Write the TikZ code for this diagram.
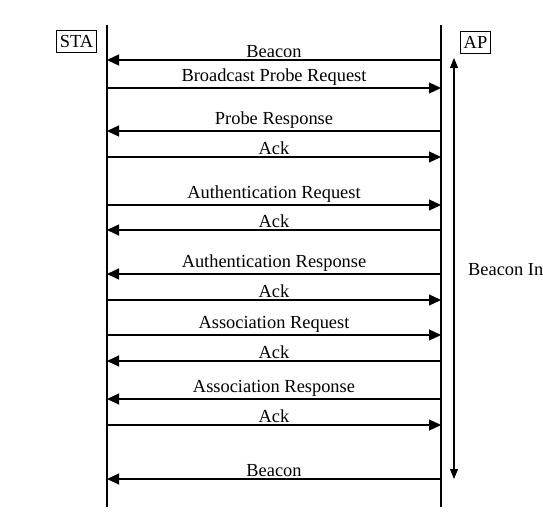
\documentclass[tikz,border=0pt]{standalone}
\usepackage{fontspec}
\setmainfont{Liberation Serif}
\usetikzlibrary{arrows.meta,positioning}

\begin{document}
\begin{tikzpicture}[
    x=1pt, y=-1pt,
    font=\fontsize{18.4}{20}\selectfont,
    life/.style={line width=1.6pt},
    msg/.style={line width=1.2pt, -{Triangle[length=12pt,width=11pt]}},
    interval/.style={line width=1.1pt, {Triangle[length=10pt,width=8pt]}-{Triangle[length=10pt,width=8pt]}},
    party/.style={draw, line width=1pt, inner xsep=3pt, inner ysep=0pt, minimum height=22pt},
    lbl/.style={above=0.5pt, inner sep=1pt}
]
\useasboundingbox (0,0) rectangle (543,514);
\coordinate (sta top) at (107,25);
\coordinate (sta bot) at (107,507);
\coordinate (ap top) at (441,25);
\coordinate (ap bot) at (441,507);
\draw[life] (sta top) -- (sta bot);
\draw[life] (ap top) -- (ap bot);
\node[party] (sta) at (76.5,41.5) {STA};
\node[party] (ap) at (475.5,42) {AP};
\foreach \y/\src/\dst/\txt [count=\i] in {
    60/ap/sta/Beacon,
    88/sta/ap/Broadcast Probe Request,
    131/ap/sta/Probe Response,
    157/sta/ap/Ack,
    205/sta/ap/Authentication Request,
    230/ap/sta/Ack,
    274/ap/sta/Authentication Response,
    300/sta/ap/Ack,
    335/sta/ap/Association Request,
    361/ap/sta/Ack,
    399/ap/sta/Association Response,
    425/sta/ap/Ack,
    479/ap/sta/Beacon}{
  \coordinate (sta\i) at (107,\y);
  \coordinate (ap\i) at (441,\y);
  \draw[msg] (\src\i) -- node[lbl] {\txt} (\dst\i);
}
\coordinate (int top) at (454,58);
\coordinate (int bot) at (454,479);
\draw[interval] (int top) -- (int bot);
\node[anchor=west, inner sep=0pt] (int lbl) at (468,270) {Beacon In};
\end{tikzpicture}
\end{document}
